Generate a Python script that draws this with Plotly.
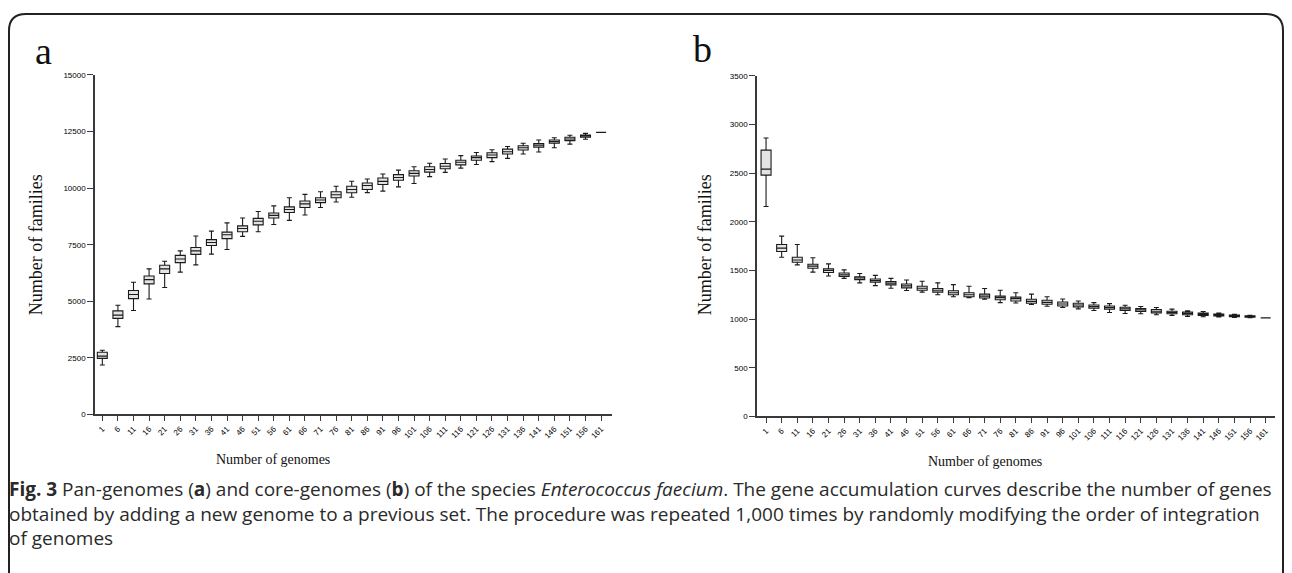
import plotly.graph_objects as go

# The page body has an 8px margin, so the figure is drawn 8px in and 8px down.
OFF = 8
W, H = 1292 - OFF, 573 - OFF

genomes = [str(g) for g in range(1, 162, 5)]

# Panel a: pan-genome (lower whisker, q1, median, q3, upper whisker)
pan_lower = [2187, 3883, 4596, 5100, 5609, 6291, 6609, 7087, 7291, 7870, 8074, 8391, 8578, 8813, 9143, 9391,
             9600, 9800, 9870, 10057, 10204, 10509, 10696, 10883, 11043, 11174, 11317, 11509, 11596, 11783,
             11943, 12161, 12465]
pan_q1 = [2478, 4248, 5117, 5770, 6230, 6709, 7074, 7465, 7770, 8074, 8378, 8683, 8926, 9143, 9361, 9578,
          9796, 9943, 10161, 10348, 10535, 10709, 10857, 11030, 11230, 11348, 11509, 11683, 11813, 11987,
          12100, 12248, 12465]
pan_median = [2578, 4391, 5304, 5957, 6435, 6870, 7230, 7596, 7943, 8217, 8535, 8796, 9057, 9304, 9478, 9710,
              9943, 10117, 10300, 10470, 10652, 10826, 10970, 11143, 11348, 11465, 11609, 11783, 11900, 12057,
              12174, 12304, 12465]
pan_q3 = [2752, 4578, 5478, 6117, 6594, 7030, 7378, 7726, 8057, 8335, 8665, 8900, 9174, 9435, 9578, 9839,
          10087, 10230, 10448, 10596, 10770, 10943, 11087, 11230, 11422, 11565, 11726, 11870, 11970, 12130,
          12248, 12348, 12465]
pan_upper = [2839, 4826, 5840, 6435, 6770, 7230, 7883, 8100, 8465, 8683, 8970, 9217, 9578, 9726, 9841, 10087,
             10304, 10404, 10622, 10796, 10943, 11100, 11291, 11435, 11578, 11696, 11839, 11987, 12130, 12230,
             12335, 12422, 12465]

# Panel b: core-genome
core_lower = [2158, 1636, 1558, 1484, 1443, 1419, 1373, 1345, 1318, 1295, 1278, 1251, 1231, 1221, 1204, 1170,
              1166, 1150, 1133, 1120, 1106, 1089, 1069, 1059, 1055, 1045, 1039, 1029, 1025, 1022, 1018, 1015, 1013]
core_q1 = [2481, 1696, 1585, 1524, 1480, 1440, 1406, 1379, 1352, 1322, 1298, 1278, 1251, 1231, 1217, 1200,
           1187, 1163, 1153, 1136, 1126, 1113, 1103, 1089, 1079, 1065, 1055, 1045, 1039, 1032, 1025, 1020, 1013]
core_median = [2542, 1730, 1608, 1545, 1500, 1457, 1423, 1396, 1369, 1342, 1318, 1298, 1271, 1251, 1237, 1221,
               1211, 1183, 1173, 1156, 1146, 1130, 1120, 1106, 1096, 1082, 1069, 1059, 1052, 1042, 1033, 1027, 1013]
core_q3 = [2738, 1767, 1636, 1565, 1517, 1474, 1436, 1413, 1386, 1362, 1338, 1315, 1292, 1271, 1257, 1237,
           1227, 1204, 1194, 1177, 1163, 1146, 1136, 1123, 1110, 1100, 1082, 1072, 1062, 1052, 1042, 1035, 1013]
core_upper = [2863, 1854, 1767, 1632, 1568, 1507, 1470, 1450, 1419, 1403, 1389, 1373, 1355, 1338, 1315, 1298,
              1271, 1257, 1231, 1207, 1187, 1170, 1160, 1143, 1130, 1120, 1103, 1085, 1079, 1062, 1049, 1040, 1013]

pan_ticks = [0, 2500, 5000, 7500, 10000, 12500, 15000]
core_ticks = [0, 500, 1000, 1500, 2000, 2500, 3000, 3500]


def fx(px):
    return (px - OFF) / W


def fy(py):
    return 1 - (py - OFF) / H


fig = go.Figure()
box_style = dict(fillcolor='#e4e4e4', line=dict(color='#1a1a1a', width=1.1), whiskerwidth=0.5,
                 width=0.64, boxpoints=False, showlegend=False, hoverinfo='skip')
fig.add_trace(go.Box(x=genomes, q1=pan_q1, median=pan_median, q3=pan_q3, lowerfence=pan_lower,
                     upperfence=pan_upper, xaxis='x', yaxis='y', **box_style))
fig.add_trace(go.Box(x=genomes, q1=core_q1, median=core_median, q3=core_q3, lowerfence=core_lower,
                     upperfence=core_upper, xaxis='x2', yaxis='y2', **box_style))

tickfont = dict(family='Liberation Sans, Arial', size=8, color='#000')
axcommon = dict(showline=True, linecolor='#3a3a3a', linewidth=1.5, ticks='outside', tickcolor='#3a3a3a',
                tickwidth=1.3, showgrid=False, zeroline=False, tickfont=tickfont, fixedrange=True)

fig.update_layout(
    width=W, height=H, margin=dict(l=0, r=0, t=0, b=0),
    paper_bgcolor='white', plot_bgcolor='white',
    xaxis=dict(domain=[fx(95), fx(612)], anchor='y', type='category', range=[-0.47, 32.7],
               tickangle=-45, ticklen=5, **axcommon),
    yaxis=dict(domain=[fy(417), fy(72)], anchor='x', range=[0, 15000], tickvals=pan_ticks,
               tickformat='d', ticklen=6, **axcommon),
    xaxis2=dict(domain=[fx(757), fx(1275)], anchor='y2', type='category', range=[-0.58, 32.6],
                tickangle=-45, ticklen=5, **axcommon),
    yaxis2=dict(domain=[fy(419), fy(73)], anchor='x2', range=[0, 3500], tickvals=core_ticks,
                tickformat='d', ticklen=6, **axcommon),
)

serif = 'Liberation Serif, Times New Roman, serif'
ann = []
ann.append(dict(text='a', x=fx(43), y=fy(48), font=dict(family=serif, size=38, color='#111')))
ann.append(dict(text='b', x=fx(702), y=fy(46), font=dict(family=serif, size=38, color='#111')))
ann.append(dict(text='Number of families', x=fx(36), y=fy(245), textangle=-90,
                font=dict(family=serif, size=18, color='#111')))
ann.append(dict(text='Number of families', x=fx(705), y=fy(245), textangle=-90,
                font=dict(family=serif, size=18, color='#111')))
ann.append(dict(text='Number of genomes', x=fx(273), y=fy(463),
                font=dict(family=serif, size=14, color='#111')))
ann.append(dict(text='Number of genomes', x=fx(985), y=fy(465),
                font=dict(family=serif, size=14, color='#111')))
for a in ann:
    a.update(xref='paper', yref='paper', showarrow=False, xanchor='center', yanchor='middle')

cap_font = dict(family='Open Sans, Noto Sans, sans-serif', size=19, color='#2a2a2a')
cap_text = (
    '<b>Fig. 3</b> Pan-genomes (<b>a</b>) and core-genomes (<b>b</b>) of the species <i>Enterococcus faecium</i>. '
    'The gene accumulation curves describe the number of genes<br>'
    'obtained by adding a new genome to a previous set. The procedure was repeated 1,000 times by randomly '
    'modifying the order of integration<br>'
    'of genomes'
)
ann.append(dict(text=cap_text, x=fx(7), y=fy(518), xref='paper', yref='paper', showarrow=False,
                xanchor='left', yanchor='middle', align='left', font=cap_font))
fig.update_layout(annotations=ann)

# Frame with rounded top corners
r = 17
path = (f"M {fx(9)},{fy(580)} L {fx(9)},{fy(10 + r)} Q {fx(9)},{fy(10)} {fx(9 + r)},{fy(10)} "
        f"L {fx(1283 - r)},{fy(10)} Q {fx(1283)},{fy(10)} {fx(1283)},{fy(10 + r)} L {fx(1283)},{fy(580)}")
fig.add_shape(type='path', path=path, xref='paper', yref='paper', line=dict(color='#222', width=2))

fig.write_html('out.html')
